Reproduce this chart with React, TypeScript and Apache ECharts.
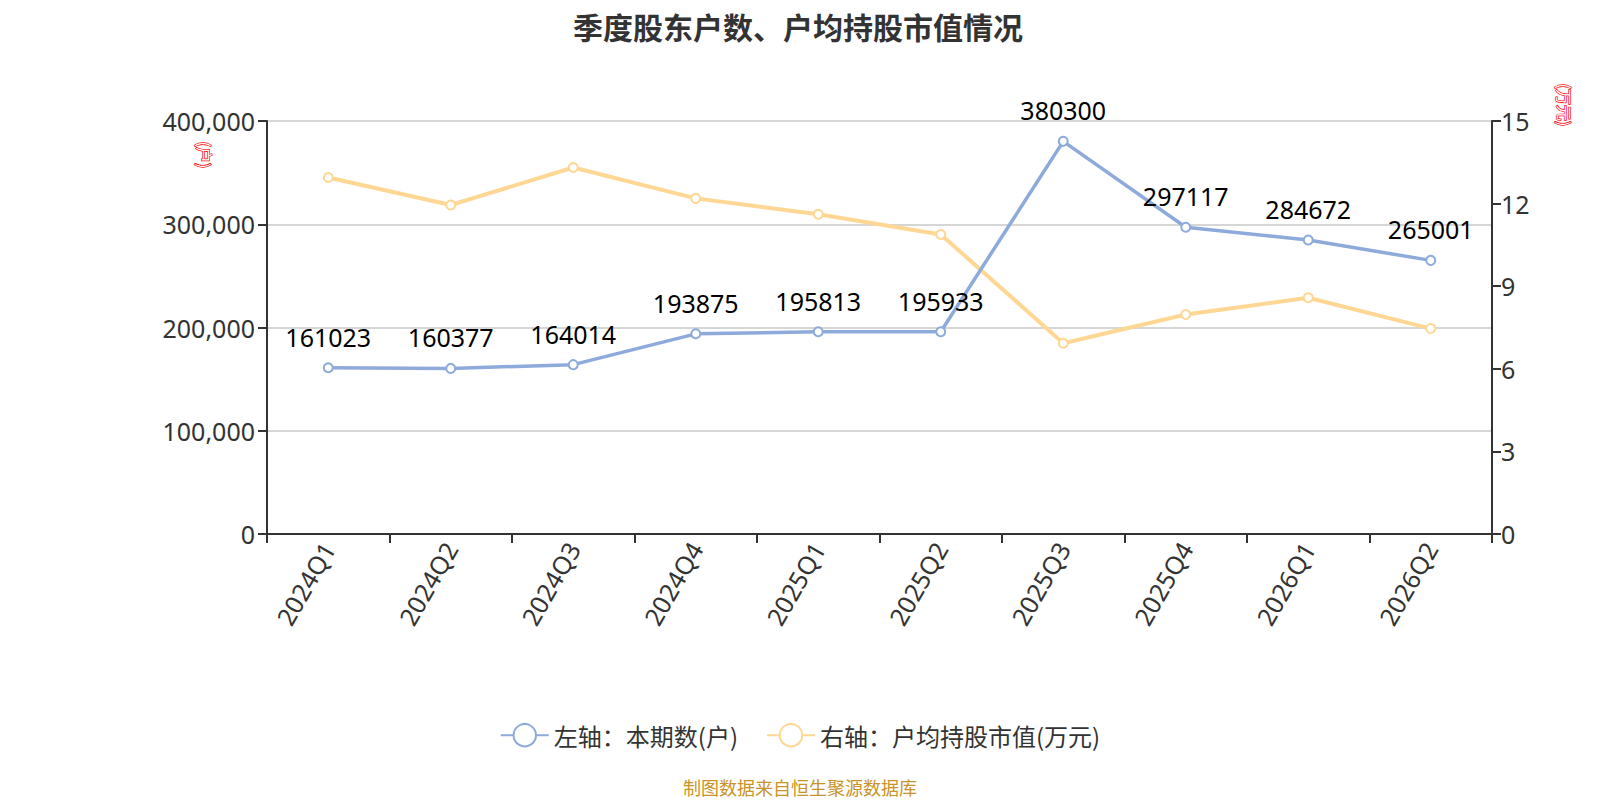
import React, { useEffect, useRef } from "react";
import * as echarts from "echarts";

const categories = ["2024Q1", "2024Q2", "2024Q3", "2024Q4", "2025Q1", "2025Q2", "2025Q3", "2025Q4", "2026Q1", "2026Q2"];
const holders = [161023, 160377, 164014, 193875, 195813, 195933, 380300, 297117, 284672, 265001];
const avgValue = [12.95, 11.95, 13.31, 12.19, 11.61, 10.88, 6.93, 7.97, 8.58, 7.46];
const leftTicks = { min: 0, max: 400000, interval: 100000 };
const rightTicks = { min: 0, max: 15, interval: 3 };

const FONT = "'Noto Sans', 'Noto Sans CJK SC', sans-serif";
const CJK = "'Noto Sans CJK SC', 'Noto Sans', sans-serif";

export default function App() {
  const ref = useRef<HTMLDivElement>(null);
  useEffect(() => {
    document.body.style.margin = "0";
    if (!ref.current) return;
    const chart = echarts.init(ref.current, null, { renderer: "svg" });
    chart.setOption({
      animation: false,
      backgroundColor: "#fff",
      title: {
        text: "季度股东户数、户均持股市值情况",
        left: 568,
        top: 6,
        textStyle: { fontSize: 30, fontWeight: "bold", color: "#333", fontFamily: CJK },
      },
      grid: { left: 267, right: 108, top: 121, bottom: 266, containLabel: false },
      legend: {
        top: 718,
        left: "center",
        itemWidth: 48,
        itemHeight: 28,
        itemGap: 28,
        textStyle: { fontSize: 24, color: "#333", fontFamily: CJK },
        data: ["左轴：本期数(户)", "右轴：户均持股市值(万元)"],
      },
      graphic: [
        {
          type: "text",
          left: "center",
          top: 778,
          style: { text: "制图数据来自恒生聚源数据库", fontSize: 18, fill: "#C8932A", fontFamily: CJK },
        },
        {
          type: "text",
          x: 205,
          y: 155,
          rotation: -Math.PI / 2,
          style: {
            text: "(户)",
            fontSize: 16,
            fill: "#fff",
            stroke: "#f00",
            lineWidth: 1.4,
            align: "center",
            verticalAlign: "middle",
            fontFamily: CJK,
          },
        },
        {
          type: "text",
          x: 1565,
          y: 105,
          rotation: -Math.PI / 2,
          style: {
            text: "(万元)",
            fontSize: 16,
            fill: "#fff",
            stroke: "#f00",
            lineWidth: 1.4,
            align: "center",
            verticalAlign: "middle",
            fontFamily: CJK,
          },
        },
      ],
      xAxis: {
        type: "category",
        data: categories,
        boundaryGap: true,
        axisLine: { lineStyle: { color: "#333", width: 2 } },
        axisTick: { show: true, length: 9, lineStyle: { color: "#333", width: 2 } },
        axisLabel: { rotate: 60, fontSize: 25, color: "#333", margin: 10, fontFamily: FONT, interval: 0 },
      },
      yAxis: [
        {
          type: "value",
          ...leftTicks,
          axisLine: { show: true, lineStyle: { color: "#333", width: 2 } },
          axisTick: { show: true, length: 9, lineStyle: { color: "#333", width: 2 } },
          axisLabel: {
            fontSize: 25,
            color: "#333",
            margin: 12,
            fontFamily: FONT,
            formatter: (v: number) => v.toLocaleString("en-US"),
          },
          splitLine: { show: true, lineStyle: { color: "#c8c8c8", width: 1.5 } },
        },
        {
          type: "value",
          ...rightTicks,
          position: "right",
          axisLine: { show: true, lineStyle: { color: "#333", width: 2 } },
          axisTick: { show: true, length: 9, lineStyle: { color: "#333", width: 2 } },
          axisLabel: { fontSize: 25, color: "#333", margin: 9, fontFamily: FONT },
          splitLine: { show: false },
        },
      ],
      series: [
        {
          name: "右轴：户均持股市值(万元)",
          type: "line",
          yAxisIndex: 1,
          data: avgValue,
          symbol: "emptyCircle",
          symbolSize: 9,
          z: 2,
          itemStyle: { color: "#FFD794", borderWidth: 2 },
          lineStyle: { color: "#FFD794", width: 4 },
        },
        {
          name: "左轴：本期数(户)",
          type: "line",
          yAxisIndex: 0,
          data: holders,
          symbol: "emptyCircle",
          symbolSize: 9,
          z: 3,
          itemStyle: { color: "#8EAADB", borderWidth: 2 },
          lineStyle: { color: "#8EAADB", width: 3.5 },
          label: {
            show: true,
            position: "top",
            distance: 13,
            fontSize: 25,
            color: "#000",
            fontFamily: FONT,
          },
        },
      ],
    });
    return () => chart.dispose();
  }, []);
  return <div ref={ref} style={{ width: 1600, height: 800 }} />;
}
